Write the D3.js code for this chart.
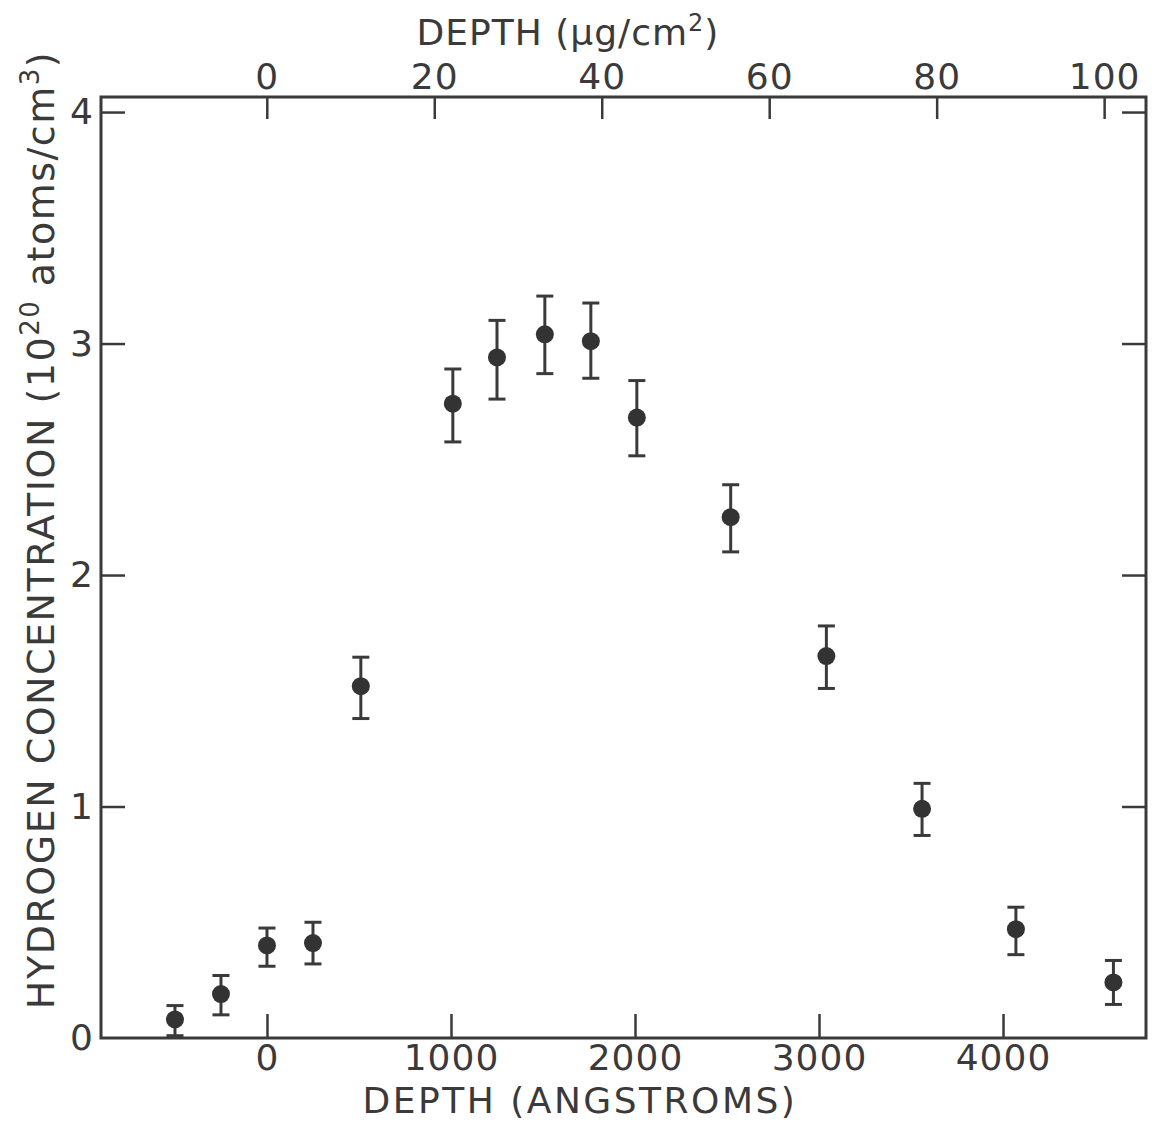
<!DOCTYPE html>
<html>
<head>
<meta charset="utf-8">
<script src="https://cdn.jsdelivr.net/npm/d3@7"></script>
<style>
  body { margin: 0; background: #fff; }
  text { font-family: "DejaVu Sans", sans-serif; fill: #3a3a3a; }
</style>
</head>
<body>
<div id="chart"></div>
<script>
// Data
var depthAngstrom = [-500, -250, 0, 250, 510, 1010, 1250, 1510, 1760, 2010, 2520, 3040, 3560, 4070, 4600];
var concentration = [0.08, 0.19, 0.40, 0.41, 1.52, 2.74, 2.94, 3.04, 3.01, 2.68, 2.25, 1.65, 0.99, 0.47, 0.24];
var errHigh = [0.14, 0.27, 0.475, 0.50, 1.645, 2.89, 3.10, 3.205, 3.175, 2.84, 2.39, 1.78, 1.10, 0.565, 0.335];
var errLow = [0.01, 0.10, 0.31, 0.32, 1.38, 2.575, 2.76, 2.87, 2.85, 2.515, 2.10, 1.51, 0.875, 0.36, 0.145];

var bottomTicks = [0, 1000, 2000, 3000, 4000];
var topTicks = [0, 20, 40, 60, 80, 100];
var yTicks = [1, 2, 3, 4];

// Plot size and margin
var svgWidth = 1152;
var svgHeight = 1124;
var margin = { top: 97, bottom: 86, left: 101, right: 6 };
var chartWidth = svgWidth - margin.left - margin.right;
var chartHeight = svgHeight - margin.top - margin.bottom;

var ink = "#3a3a3a";

var svg = d3
  .select("#chart")
  .append("svg")
  .attr("width", svgWidth)
  .attr("height", svgHeight);

var chartGroup = svg
  .append("g")
  .attr("transform", `translate(${margin.left}, ${margin.top})`);

// Scales
var xScale = d3.scaleLinear().domain([-902, 4777]).range([0, chartWidth]);
var xTopScale = d3.scaleLinear().domain([-19.8, 105]).range([0, chartWidth]);
var yScale = d3.scaleLinear().domain([0, 4.065]).range([chartHeight, 0]);

// Axes, ticks pointing inward
var bottomAxis = d3.axisBottom(xScale).tickValues(bottomTicks).tickSize(-24).tickPadding(6).tickFormat(d3.format("d"));
var topAxis = d3.axisTop(xTopScale).tickValues(topTicks).tickSize(-22).tickPadding(8).tickFormat(d3.format("d"));
var leftAxis = d3.axisLeft(yScale).tickValues([0].concat(yTicks)).tickSize(-24).tickPadding(7).tickFormat(d3.format("d"));
var rightAxis = d3.axisRight(yScale).tickValues(yTicks).tickSize(-24).tickFormat("");

function styleAxis(g) {
  g.select(".domain").remove();
  g.selectAll("line").attr("stroke", ink).attr("stroke-width", 2.5);
  g.selectAll("text")
    .attr("fill", ink)
    .style("font-family", "DejaVu Sans, sans-serif")
    .style("font-size", "36px")
    .style("letter-spacing", "1px");
}

chartGroup.append("g").attr("transform", `translate(0,${chartHeight})`).call(bottomAxis).call(styleAxis);
chartGroup.append("g").call(topAxis).call(styleAxis);
var yAxisG = chartGroup.append("g").call(leftAxis).call(styleAxis);
yAxisG.selectAll(".tick").filter(d => d === 0).select("line").remove();
chartGroup.append("g").attr("transform", `translate(${chartWidth},0)`).call(rightAxis).call(styleAxis);

// Frame
chartGroup
  .append("rect")
  .attr("x", 0)
  .attr("y", 0)
  .attr("width", chartWidth)
  .attr("height", chartHeight)
  .attr("fill", "none")
  .attr("stroke", ink)
  .attr("stroke-width", 3);

// Error bars
var points = depthAngstrom.map((d, i) => ({
  x: d, y: concentration[i], hi: errHigh[i], lo: errLow[i]
}));

var bars = chartGroup.selectAll(".errbar").data(points).enter().append("g").classed("errbar", true);
bars.append("line")
  .attr("x1", d => xScale(d.x)).attr("x2", d => xScale(d.x))
  .attr("y1", d => yScale(d.hi)).attr("y2", d => yScale(d.lo))
  .attr("stroke", ink).attr("stroke-width", 3);
bars.append("line")
  .attr("x1", d => xScale(d.x) - 8.5).attr("x2", d => xScale(d.x) + 8.5)
  .attr("y1", d => yScale(d.hi)).attr("y2", d => yScale(d.hi))
  .attr("stroke", ink).attr("stroke-width", 3);
bars.append("line")
  .attr("x1", d => xScale(d.x) - 8.5).attr("x2", d => xScale(d.x) + 8.5)
  .attr("y1", d => yScale(d.lo)).attr("y2", d => yScale(d.lo))
  .attr("stroke", ink).attr("stroke-width", 3);

// Points
chartGroup.selectAll(".pt").data(points).enter().append("circle")
  .classed("pt", true)
  .attr("cx", d => xScale(d.x))
  .attr("cy", d => yScale(d.y))
  .attr("r", 9)
  .attr("fill", "#333");

// Axis titles
svg.append("text")
  .attr("x", 580)
  .attr("y", 1113)
  .attr("text-anchor", "middle")
  .style("font-size", "36px")
  .style("letter-spacing", "2.5px")
  .text("DEPTH (ANGSTROMS)");

var topTitle = svg.append("text")
  .attr("x", 568)
  .attr("y", 45)
  .attr("text-anchor", "middle")
  .style("font-size", "36px")
  .style("letter-spacing", "1px");
topTitle.append("tspan").text("DEPTH (μg/cm");
topTitle.append("tspan").attr("baseline-shift", "super").style("font-size", "24px").text("2");
topTitle.append("tspan").text(")");

var yTitle = svg.append("text")
  .attr("transform", "translate(54, 530) rotate(-90)")
  .attr("text-anchor", "middle")
  .style("font-size", "38px")
  .style("letter-spacing", "1.5px");
yTitle.append("tspan").text("HYDROGEN  CONCENTRATION  (10");
yTitle.append("tspan").attr("baseline-shift", "super").style("font-size", "26px").text("20");
yTitle.append("tspan").text(" atoms/cm");
yTitle.append("tspan").attr("baseline-shift", "super").style("font-size", "26px").text("3");
yTitle.append("tspan").text(")");
</script>
</body>
</html>
